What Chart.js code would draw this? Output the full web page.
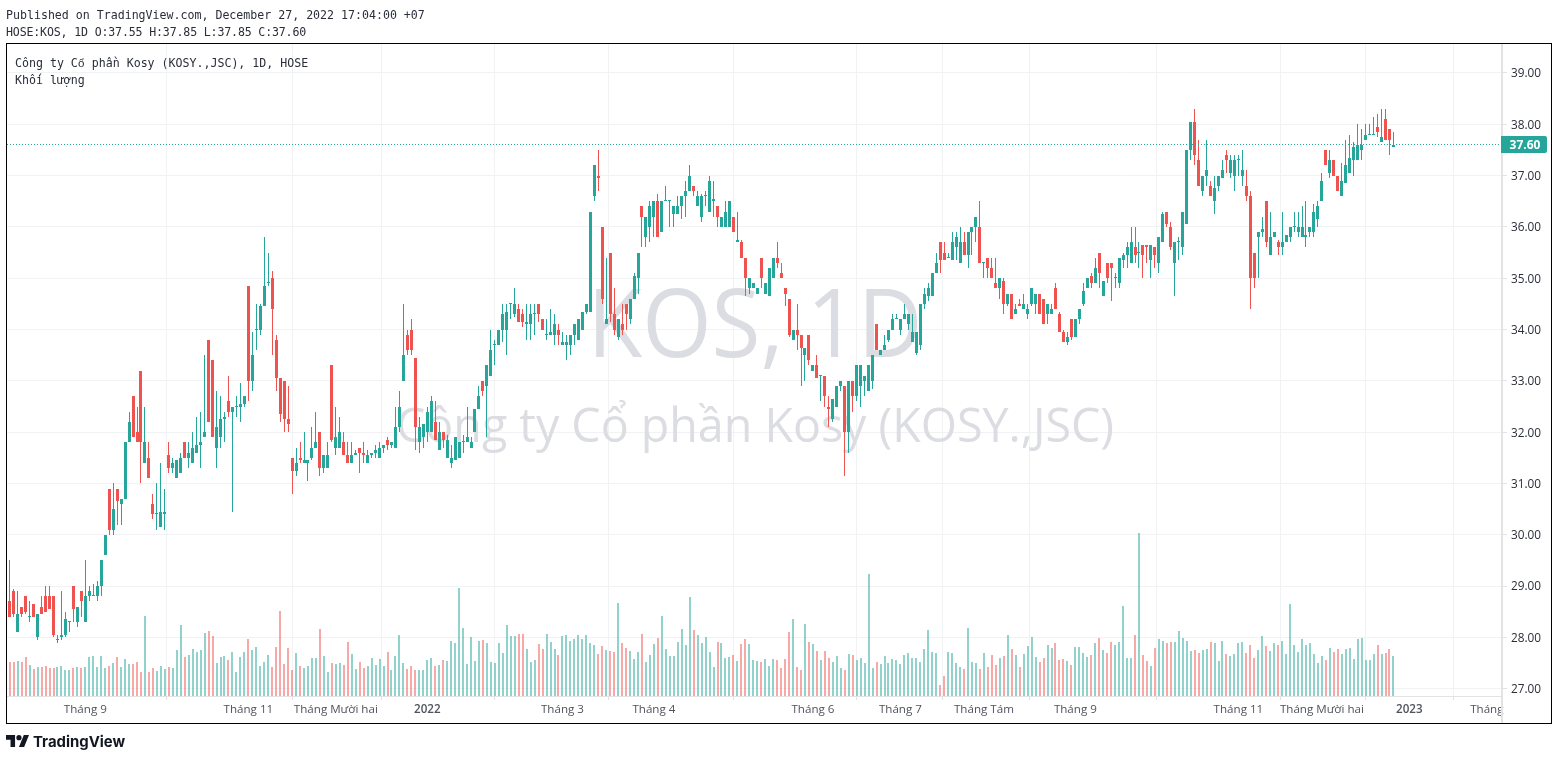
<!DOCTYPE html>
<html lang="vi">
<head>
<meta charset="utf-8">
<title>KOS 1D</title>
<script src="https://cdn.jsdelivr.net/npm/chart.js@4/dist/chart.umd.min.js"></script>
<style>
html,body{margin:0;padding:0;background:#fff;width:1558px;height:760px;overflow:hidden}
#c{position:absolute;left:0;top:0}
.t{position:absolute;font:11.6px/14px "DejaVu Sans Mono",monospace;color:#2a2e39;white-space:pre}
.t span{font-family:"Liberation Mono",monospace}
#frame{position:absolute;left:6px;top:43px;width:1546px;height:681px;box-sizing:border-box;border:1px solid #000;pointer-events:none}
#corner{position:absolute;left:1501px;top:697px;width:2px;height:26px;background:#e3e3e6}
#tv{position:absolute;left:33px;top:733px;font:700 14.9px/18px Inter,sans-serif;color:#131722}
#logo{position:absolute;left:6px;top:735px;width:23px;height:12px}
</style>
</head>
<body>
<canvas id="c" width="1558" height="760"></canvas>
<div id="corner"></div>
<div id="frame"></div>
<div class="t" style="left:6px;top:8px">Published on TradingView.com, December 27, 2022 17:04:00 +07</div>
<div class="t" style="left:6px;top:25px;letter-spacing:-.16px">HOSE:KOS, 1D O:37.55 H:37.85 L:37.85 C:37.60</div>
<div class="t" style="left:15px;top:56px">Công ty C<span>ổ</span> phần Kosy (KOSY.,JSC), 1D, HOSE</div>
<div class="t" style="left:15px;top:73px">Khối lượng</div>
<svg id="logo" viewBox="0 4 35.5 18" preserveAspectRatio="none"><path fill="#131722" d="M14 22H7V11H0V4h14v18zM28 22h-8l7.5-18h8L28 22z"/><circle fill="#131722" cx="20" cy="8" r="4"/></svg>
<div id="tv">TradingView</div>
<script>
const opens=[28.0,28.7,28.9,28.1,28.6,28.8,28.4,28.65,28.0,28.6,
28.8,28.8,28.8,27.95,28.0,28.05,28.3,29.0,28.3,28.9,
28.3,28.8,28.8,28.8,29.0,29.6,30.9,30.1,30.9,30.6,
30.7,31.8,32.7,32.0,33.2,31.4,31.5,30.6,30.4,30.15,
30.4,31.55,31.3,31.1,31.2,31.8,31.5,31.4,31.6,31.75,
31.9,33.8,33.4,31.7,31.9,32.25,32.6,32.4,32.5,32.5,
32.55,34.85,33.0,34.0,34.0,34.45,34.9,35.0,33.8,33.05,
33.0,32.25,31.5,31.25,31.5,31.4,
31.4,31.5,31.7,32.0,31.3,31.3,33.3,31.7,31.7,31.8,
31.55,31.4,31.55,31.7,31.6,31.4,31.55,31.6,31.5,31.7,
31.85,31.75,31.7,32.1,33.0,33.9,34.0,33.45,31.8,31.9,
32.0,32.0,32.2,31.65,32.0,31.5,31.4,31.45,31.5,31.8,
31.8,31.7,32.0,32.45,33.0,32.9,33.1,33.7,33.7,34.0,
34.0,34.5,34.3,34.4,34.3,34.1,34.1,34.3,34.5,34.2,
33.9,33.9,33.9,34.0,33.7,33.7,33.7,33.9,33.8,34.0,
34.35,34.35,36.6,37.0,
36.0,34.1,35.5,34.3,33.85,34.1,34.5,34.2,34.6,35.0,
36.4,35.8,36.0,36.2,36.5,35.9,36.5,36.5,36.25,36.25,
36.4,36.6,36.7,36.8,36.4,36.2,36.6,36.3,36.5,36.4,
36.0,36.0,36.0,36.2,35.7,35.7,35.4,34.8,34.8,34.7,
35.4,34.7,34.65,35.0,35.4,35.1,34.8,34.6,33.8,34.0,
33.9,33.5,33.9,33.2,33.3,33.1,33.1,32.5,32.25,32.5,
32.9,32.9,32.0,33.0,32.7,32.9,33.0,32.8,33.0,34.1,
33.5,33.6,33.8,34.0,34.2,34.0,34.2,34.1,
33.75,33.55,33.7,34.5,34.65,34.65,35.1,35.7,35.5,35.4,
35.35,35.6,35.3,35.7,35.45,35.9,36.0,36.0,35.3,35.4,
35.2,34.9,34.8,34.95,34.5,34.7,34.3,34.5,34.4,34.3,
34.5,34.5,34.7,34.6,34.3,34.3,34.8,34.3,33.95,33.75,
34.2,33.85,34.2,34.5,34.8,35.05,34.9,35.5,34.65,35.3,
35.3,35.0,34.9,35.35,35.45,35.3,35.6,35.5,35.65,35.65,
35.35,35.6,35.3,35.7,36.3,36.0,35.3,35.7,35.6,36.05,
37.5,38.05,37.3,
36.7,37.0,36.8,36.5,36.8,36.95,37.4,37.05,37.0,37.3,
37.0,36.8,36.6,35.5,35.8,35.9,36.5,35.45,35.8,35.7,
35.6,35.7,35.8,36.0,35.9,35.8,35.8,35.9,35.9,36.15,
36.5,37.5,37.05,37.3,37.0,36.6,36.85,37.05,37.3,37.3,
37.5,37.7,37.8,37.8,37.95,37.65,38.1,37.9,37.55];
const highs=[28.3,29.5,28.95,28.9,28.6,28.8,28.7,28.65,28.45,28.8,
29.0,29.0,28.8,28.05,28.9,28.5,28.3,29.0,28.6,28.9,
29.5,29.0,29.05,29.1,29.5,30.0,30.9,31.0,30.9,30.7,
31.8,32.4,32.7,32.5,33.2,32.5,31.8,30.8,31.0,31.4,
30.9,31.8,31.5,31.45,31.6,31.8,31.8,32.0,32.3,32.4,
33.5,33.8,33.4,32.8,32.7,32.4,33.1,32.5,32.7,32.95,
32.7,34.85,33.95,34.5,34.5,35.8,35.5,35.15,33.9,33.05,
33.0,32.9,31.5,31.7,31.8,32.0,
31.45,32.1,32.4,32.0,31.55,31.8,33.3,32.5,32.3,32.0,
31.8,31.8,31.65,31.7,31.8,31.65,31.6,31.75,31.8,31.75,
31.9,31.8,32.5,32.8,34.5,34.0,34.2,33.45,32.3,32.15,
32.5,32.7,32.6,32.2,32.0,31.95,31.75,31.9,31.8,31.95,
32.5,31.9,32.45,32.9,33.0,33.3,34.0,33.8,34.0,34.5,
34.5,34.5,34.8,34.5,34.4,34.5,34.5,34.5,34.5,34.2,
34.2,34.4,34.3,34.1,33.95,33.9,33.9,34.1,34.2,34.35,
34.5,36.3,37.2,37.5,
36.0,35.4,35.5,34.8,34.2,34.5,34.5,34.6,35.1,35.5,
36.4,36.2,36.5,36.5,36.65,36.5,36.8,36.5,36.4,36.6,
36.6,36.9,37.2,36.8,36.7,36.65,36.7,37.0,36.9,36.4,
36.2,36.5,36.5,36.2,36.3,35.75,35.4,35.0,34.9,34.8,
35.4,34.9,35.2,35.4,35.7,35.3,34.8,34.6,34.0,34.5,
33.9,33.65,33.9,33.3,33.5,33.1,33.1,32.7,32.65,32.9,
33.0,32.9,33.0,33.0,33.3,33.3,33.1,33.3,33.5,34.1,
33.6,33.9,34.0,34.3,34.3,34.2,34.5,34.3,
34.3,33.95,34.5,34.8,34.9,35.1,35.5,35.7,35.7,35.5,
35.9,35.9,36.0,35.9,35.9,36.0,36.2,36.5,35.3,35.4,
35.4,35.4,35.0,35.0,34.7,34.7,34.5,34.6,34.7,34.5,
34.8,34.7,34.7,34.6,34.5,34.5,34.9,34.35,34.0,33.95,
34.2,34.2,34.4,34.9,35.0,35.1,35.4,35.5,34.95,35.3,
35.3,35.1,35.4,35.5,35.7,36.0,36.0,35.7,35.65,35.65,
35.65,35.6,35.8,36.3,36.3,36.1,35.7,35.8,36.3,37.5,
38.05,38.3,37.7,
37.0,37.7,36.9,37.0,37.0,37.3,37.5,37.4,37.4,37.4,
37.5,37.1,36.7,35.5,35.9,36.2,36.5,36.3,35.9,35.75,
36.3,35.85,36.0,36.3,36.3,36.4,36.5,36.0,36.45,36.5,
37.05,37.5,37.5,37.3,37.0,37.25,37.7,37.8,37.65,38.0,
37.9,38.0,38.0,38.15,38.2,38.3,38.3,37.9,37.85];
const lows=[28.0,28.4,28.4,28.1,28.4,28.45,28.3,28.4,27.95,28.45,
28.5,28.55,28.0,27.9,27.95,28.0,28.1,28.3,28.2,28.4,
28.3,28.7,28.8,28.7,28.8,29.6,30.0,30.0,30.2,30.2,
30.7,31.8,31.9,31.8,31.0,31.4,31.1,30.3,30.1,30.15,
30.1,31.2,31.2,31.1,31.2,31.5,31.3,31.4,31.6,31.3,
31.9,32.2,31.9,31.3,31.7,31.8,32.3,30.45,32.3,32.2,
32.5,32.6,32.8,33.6,33.9,34.45,34.85,33.5,32.8,32.2,
32.0,32.0,30.8,31.15,31.4,31.4,
31.05,31.45,31.7,31.15,31.2,31.3,31.8,31.55,31.7,31.55,
31.4,31.4,31.55,31.2,31.4,31.4,31.5,31.5,31.5,31.6,
31.65,31.7,31.7,32.0,33.0,33.5,33.5,31.65,31.6,31.7,
31.8,32.0,31.85,31.65,31.7,31.5,31.3,31.45,31.5,31.6,
31.8,31.7,32.0,32.45,32.7,31.9,33.1,33.3,33.7,33.75,
33.5,34.2,34.25,34.15,34.05,33.8,33.8,33.9,34.15,34.0,
33.8,33.9,33.7,33.7,33.7,33.4,33.5,33.7,33.8,34.0,
34.3,34.35,36.5,36.7,
34.5,34.1,34.15,33.9,33.8,33.9,34.0,34.1,34.6,34.7,
35.6,35.6,35.7,35.8,35.8,35.9,36.5,36.0,36.0,36.25,
36.15,36.2,36.7,36.6,36.4,36.1,36.4,36.3,36.2,36.0,
36.0,36.0,36.0,35.9,35.7,35.4,34.65,34.7,34.8,34.7,
34.8,34.7,34.65,35.0,35.2,35.0,34.45,33.85,33.8,33.6,
32.9,33.0,33.3,33.2,33.05,32.6,32.5,32.1,32.2,32.5,
32.8,31.15,31.6,32.4,32.6,32.5,32.7,32.8,32.85,33.6,
33.5,33.6,33.75,34.0,34.2,33.9,34.2,34.0,
33.75,33.5,33.6,34.4,34.55,34.65,35.1,35.1,35.35,35.4,
35.35,35.35,35.3,35.45,35.2,35.45,35.7,35.3,35.0,35.0,
35.0,34.8,34.6,34.3,34.45,34.2,34.3,34.45,34.4,34.2,
34.45,34.3,34.3,34.1,34.1,34.3,34.4,33.95,33.75,33.7,
33.8,33.85,34.1,34.45,34.8,34.8,34.9,34.8,34.65,34.9,
34.55,34.8,34.8,35.2,35.2,35.3,35.3,35.2,35.0,35.3,
35.0,35.2,35.1,35.7,36.0,35.55,34.65,35.35,35.45,36.05,
37.3,37.2,36.8,
36.6,36.8,36.6,36.25,36.7,36.95,37.05,36.95,36.7,37.0,
36.8,36.5,34.4,34.8,35.0,35.8,35.6,35.45,35.8,35.45,
35.45,35.7,35.7,35.9,35.8,35.8,35.6,35.8,35.8,36.0,
36.5,37.2,36.95,37.0,36.7,36.6,36.85,37.05,37.0,37.3,
37.3,37.7,37.8,37.8,37.75,37.65,37.7,37.4,37.55];
const closes=[28.3,28.4,28.45,28.45,28.45,28.5,28.4,28.4,28.45,28.45,
28.5,28.55,28.05,27.95,28.05,28.35,28.3,28.55,28.6,28.7,
28.8,28.9,28.8,29.0,29.5,30.0,30.1,30.5,30.65,30.7,
31.8,32.2,31.9,31.8,31.8,31.8,31.1,30.4,30.4,30.45,
30.45,31.3,31.4,31.45,31.5,31.5,31.6,31.7,31.75,31.8,
32.0,32.2,31.9,32.1,32.25,32.3,32.4,32.5,32.5,32.55,
32.7,33.0,33.5,34.0,34.45,34.85,34.9,34.4,33.05,32.35,
32.25,32.15,31.25,31.4,31.45,31.45,
31.45,31.7,31.8,31.3,31.55,31.55,31.85,31.9,32.0,31.55,
31.4,31.55,31.6,31.6,31.55,31.55,31.6,31.65,31.7,31.75,
31.75,31.8,32.1,32.5,33.5,33.6,33.6,32.1,32.1,32.15,
32.4,32.6,31.85,32.0,31.85,31.85,31.5,31.9,31.8,31.8,
31.9,31.8,32.45,32.7,32.8,33.3,33.6,33.7,34.0,34.3,
34.35,34.5,34.5,34.15,34.15,34.15,34.3,34.3,34.3,34.0,
33.9,33.95,34.1,33.9,33.75,33.75,33.9,34.1,34.2,34.35,
34.5,36.3,37.2,36.95,
34.6,34.2,34.3,34.0,34.2,34.0,34.3,34.6,35.05,35.5,
36.2,36.2,36.4,36.5,35.8,36.5,36.5,36.5,36.4,36.4,
36.6,36.7,37.0,36.7,36.6,36.6,36.6,36.9,36.55,36.2,
36.2,36.3,36.5,35.9,35.75,35.4,35.0,35.0,34.9,34.8,
35.0,34.9,35.2,35.4,35.3,35.0,34.7,33.9,34.0,33.9,
33.65,33.65,33.4,33.3,33.05,33.1,32.7,32.45,32.65,32.9,
33.0,32.0,33.0,32.7,33.3,33.3,33.1,33.3,33.5,33.6,
33.6,33.7,34.0,34.2,34.2,34.2,34.3,34.3,
33.95,33.95,34.5,34.7,34.8,35.1,35.3,35.35,35.35,35.4,
35.7,35.8,35.7,35.45,35.9,36.0,36.2,35.3,35.3,35.2,
35.0,34.8,35.0,34.5,34.7,34.2,34.4,34.45,34.5,34.4,
34.8,34.7,34.3,34.1,34.5,34.4,34.4,33.95,33.75,33.85,
33.85,34.2,34.4,34.75,35.0,34.9,35.2,35.1,34.95,35.0,
35.2,35.0,35.4,35.45,35.6,35.7,35.45,35.5,35.45,35.6,
35.65,35.45,35.8,36.25,36.05,35.6,35.7,35.7,36.3,37.5,
38.05,37.4,36.8,
37.0,37.1,36.6,36.75,37.0,37.1,37.3,37.3,37.3,37.3,
37.1,36.6,35.0,35.0,35.9,35.95,35.7,35.8,35.9,35.6,
35.7,35.85,36.0,36.0,36.0,36.0,35.85,36.0,36.3,36.4,
36.9,37.2,37.3,37.0,36.7,36.9,37.2,37.35,37.55,37.6,
37.6,37.8,37.8,37.8,37.85,37.75,37.7,37.7,37.6];
const volumes=[34,34,34,35,34,39,31,27,29,29,30,
28,28,29,30,26,26,28,29,28,29,
39,40,29,40,28,30,33,39,29,37,
32,32,34,24,80,24,28,25,30,27,
29,28,46,71,39,41,47,44,46,63,
65,60,33,39,40,36,44,24,39,44,
57,46,49,30,34,41,29,49,85,32,
48,26,43,30,28,30,38,38,67,40,
24,33,32,33,31,54,42,27,34,28,
30,38,31,37,30,44,26,40,61,33,
27,30,26,26,26,36,38,30,31,36,
35,55,53,108,68,32,59,35,55,56,
53,34,33,53,43,71,
60,60,62,62,47,34,36,52,47,62,
54,47,41,60,61,55,57,61,57,61,
53,51,42,50,46,45,44,93,53,48,
45,37,44,62,34,41,52,58,80,47,
40,40,54,67,51,99,66,61,53,59,
44,29,54,53,38,39,41,35,52,57,
52,36,35,34,37,30,37,36,28,37,
64,77,29,26,72,54,52,45,36,45,
38,34,40,28,26,42,41,36,38,33,
122,28,34,32,40,33,37,36,32,41,
43,38,38,34,47,66,44,43,11,20,
44,43,33,29,27,68,34,33,27,43,
29,41,31,38,40,61,
47,41,29,42,50,59,39,34,38,51,
48,53,36,37,35,31,49,49,43,39,
41,53,58,46,43,54,51,54,90,38,
38,61,163,41,35,30,48,57,55,53,
54,54,65,58,55,45,46,43,46,47,
54,53,35,55,42,40,42,53,54,43,
51,38,46,60,50,45,53,51,55,42,
92,51,44,57,51,53,42,33,40,36,
48,44,47,42,47,48,37,57,58,36,
36,42,51,42,43,47,40];
const priceTicks=[27,28,29,30,31,32,33,34,35,36,37,38,39];
const timeTickBars=[20,61,83,106,140,163,203,225,246,269,310,331,353,375];
const timeTickLabels=["Tháng 9","Tháng 11","Tháng Mười hai","2022","Tháng 3","Tháng 4","Tháng 6","Tháng 7","Tháng Tám","Tháng 9","Tháng 11","Tháng Mười hai","2023","Tháng"];
const watermarkTitle="KOS, 1D";
const watermarkName="Công ty Cổ phần Kosy (KOSY.,JSC)";
const lastPrice=37.60;

if(!(opens.length===350&&highs.length===350&&lows.length===350&&closes.length===350&&volumes.length===350)){
  throw new Error("len "+[opens.length,highs.length,lows.length,closes.length,volumes.length].join());
}
const UP="#26a69a",DOWN="#ef5350",UPV="rgba(38,166,154,.5)",DOWNV="rgba(239,83,80,.5)";
const up=i=>closes[i]>=opens[i];
const bars=opens.map((_,i)=>i);

const snap={id:"snap",afterDatasetsUpdate(chart){
  chart.data.datasets.forEach((ds,d)=>{
    const w=ds.maxBarThickness,odd=w%2===1;
    chart.getDatasetMeta(d).data.forEach(el=>{
      el.x=odd?Math.floor(el.x)+.5:Math.round(el.x);
      el.width=w;
      const t=Math.round(Math.min(el.y,el.base));
      const b=Math.max(t+1,Math.round(Math.max(el.y,el.base)));
      el.y=t;el.base=b;el.height=b-t;
    });
  });
}};
const nudge={id:"nudge",beforeDraw(chart){
  const {x,y}=chart.scales;
  y.getLabelItems().forEach(it=>{if(!it.options.nudged){it.options.translation[1]+=1;it.options.nudged=true;}});
  const xi=x.getLabelItems();
  const last=xi[xi.length-1];
  if(last&&!last.options.nudged){last.options.translation[0]-=10;last.options.nudged=true;}
}};
const watermark={id:"watermark",beforeDatasetsDraw(chart){
  const {ctx}=chart;
  ctx.save();ctx.fillStyle="#dcdde2";ctx.textAlign="center";ctx.textBaseline="alphabetic";
  const cx=755;
  ctx.font='96px "Open Sans"';ctx.fillText(watermarkTitle,cx,357,335);
  ctx.font='48px "Open Sans"';ctx.fillText(watermarkName,cx,442,718);
  ctx.restore();
}};
const lastLine={id:"lastLine",afterDraw(chart){
  const {ctx,chartArea:a,scales:{y}}=chart;
  const py=Math.floor(y.getPixelForValue(lastPrice))+.5;
  ctx.save();
  ctx.strokeStyle=UP;ctx.lineWidth=1;ctx.setLineDash([1,2]);
  ctx.beginPath();ctx.moveTo(a.left,py);ctx.lineTo(a.right,py);ctx.stroke();
  ctx.setLineDash([]);
  ctx.fillStyle=UP;ctx.beginPath();ctx.roundRect(a.right-1,py-8.5,46,17,[0,2,2,0]);ctx.fill();
  ctx.fillStyle="#fff";ctx.font='bold 12px "Open Sans"';ctx.textAlign="center";ctx.textBaseline="middle";
  ctx.fillText(lastPrice.toFixed(2),a.right+23,py+1);
  ctx.restore();
}};

new Chart(document.getElementById("c"),{
  type:"bar",
  data:{datasets:[
    {label:"Khối lượng",yAxisID:"v",order:3,barThickness:2,maxBarThickness:2,
     data:bars.map(i=>({x:i,y:volumes[i]})),
     backgroundColor:bars.map(i=>up(i)?UPV:DOWNV)},
    {label:"wick",yAxisID:"y",order:2,barThickness:1,maxBarThickness:1,
     data:bars.map(i=>({x:i,y:[lows[i],highs[i]]})),
     backgroundColor:bars.map(i=>up(i)?UP:DOWN)},
    {label:"body",yAxisID:"y",order:1,barThickness:3,maxBarThickness:3,minBarLength:1,
     data:bars.map(i=>({x:i,y:[opens[i],closes[i]]})),
     backgroundColor:bars.map(i=>up(i)?UP:DOWN)}
  ]},
  options:{
    responsive:false,animation:false,
    events:[],
    layout:{padding:{left:7,top:44,right:6,bottom:36}},
    datasets:{bar:{grouped:false,borderWidth:0,inflateAmount:0}},
    plugins:{legend:{display:false},tooltip:{enabled:false},title:{display:false}},
    scales:{
      x:{type:"linear",min:0.30,max:376.3,offset:false,
        afterBuildTicks(s){s.ticks=timeTickBars.map(v=>({value:v}));},
        afterFit(s){s.height=28;},
        border:{color:"#e3e3e6"},
        grid:{color:"#f1f2f4",tickColor:"#e3e3e6",tickLength:4,drawTicks:true},
        ticks:{autoSkip:false,maxRotation:0,minRotation:0,padding:3,color:"#50535e",
          font:c=>{const l=timeTickLabels[c.index]||"";return /^\d{4}$/.test(l)?{family:'"Open Sans"',size:11.6,weight:"600"}:{family:'"Open Sans"',size:11.6};},
          callback:(v,i)=>timeTickLabels[i]}
      },
      y:{type:"linear",position:"right",min:26.858,max:39.565,
        afterBuildTicks(s){s.ticks=priceTicks.map(v=>({value:v}));},
        afterFit(s){s.width=50;},
        border:{color:"#e3e3e6",width:2},
        grid:{color:"#f1f2f4",tickColor:"#e3e3e6",tickLength:5},
        ticks:{padding:4,color:"#2a2e39",font:{family:'"Open Sans"',size:11.8},
          callback:v=>v.toFixed(2)}
      },
      v:{type:"linear",display:false,min:0,max:652}
    }
  },
  plugins:[snap,nudge,watermark,lastLine]
});
</script>
</body>
</html>
